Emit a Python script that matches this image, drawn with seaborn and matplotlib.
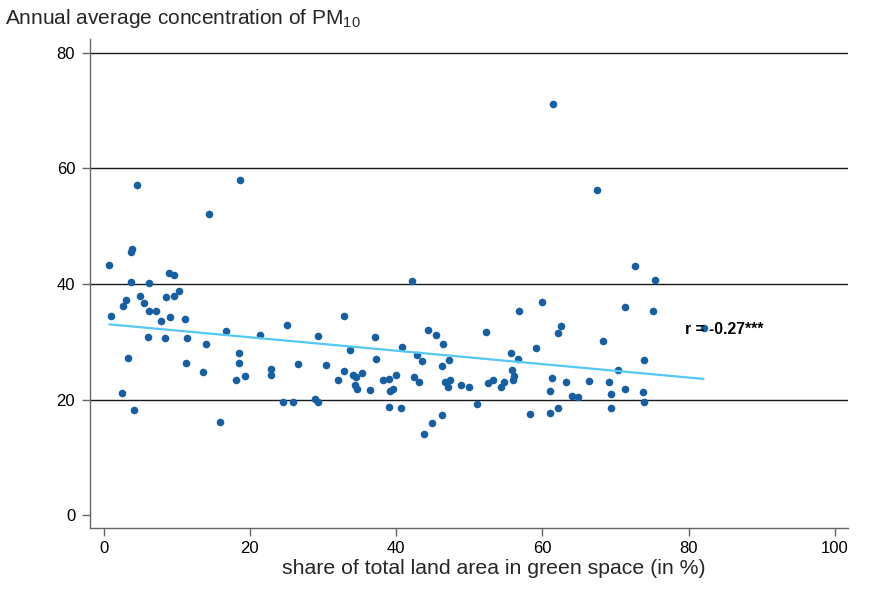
import numpy as np
import pandas as pd
import matplotlib
matplotlib.use("Agg")
import matplotlib.pyplot as plt
import seaborn as sns

# green space share (%) and PM10 annual average
green_share = [
    4.56, 18.65, 14.36, 3.83, 3.69, 0.78, 3.79, 6.25, 8.93, 9.62,
    4.92, 3.10, 2.70, 5.57, 8.58, 9.62, 10.30, 6.16, 7.15, 1.05,
    7.89, 9.12, 11.12, 25.07, 16.69, 21.34, 6.11, 8.44, 11.45, 13.99,
    18.47, 3.38, 18.47, 11.31, 13.54, 22.85, 22.85, 18.10, 19.38, 2.46,
    24.49, 4.15, 15.91,
    42.18, 32.83, 29.32, 37.07, 33.75, 40.86, 44.41, 45.42, 37.25, 42.91,
    43.55, 26.54, 30.46, 32.83, 32.01, 34.11, 34.52, 35.29, 34.34, 34.66,
    36.48, 38.21, 39.03, 39.95, 39.22, 39.53, 42.41, 43.09, 25.85, 28.96,
    29.37, 39.08, 40.67, 44.87, 43.78,
    59.96, 56.81, 62.61, 62.15, 52.35, 46.42, 59.19, 55.77, 56.68, 47.24,
    46.33, 55.86, 56.18, 55.99, 61.38, 63.30, 66.44, 46.69, 47.33, 47.15,
    48.93, 50.03, 52.57, 53.21, 54.35, 54.76, 61.05, 64.12, 64.84, 51.12,
    46.28, 58.32, 61.10, 62.15,
    61.47, 67.48, 72.73, 75.47, 71.37, 75.10, 68.36, 73.87, 70.31, 69.13,
    69.36, 71.27, 73.78, 73.97, 69.36, 82.04,
]
pm10 = [
    57.20, 57.98, 52.10, 46.06, 45.48, 43.30, 40.41, 40.12, 41.97, 41.57,
    38.00, 37.18, 36.27, 36.67, 37.70, 37.88, 38.81, 35.40, 35.35, 34.49,
    33.56, 34.20, 34.02, 32.94, 31.78, 31.09, 30.79, 30.57, 30.69, 29.59,
    28.10, 27.12, 26.37, 26.37, 24.70, 25.22, 24.30, 23.32, 24.13, 21.19,
    19.52, 18.13, 16.11,
    40.47, 34.54, 31.03, 30.80, 28.50, 29.13, 32.01, 31.09, 27.06, 27.63,
    26.71, 26.08, 25.96, 24.99, 23.32, 24.18, 23.95, 24.65, 22.45, 21.88,
    21.59, 23.32, 23.49, 24.30, 21.47, 21.81, 23.83, 23.09, 19.57, 20.03,
    19.52, 18.70, 18.53, 16.01, 14.04,
    36.96, 35.35, 32.76, 31.55, 31.66, 29.59, 28.96, 28.10, 27.00, 26.77,
    25.85, 25.10, 24.06, 23.44, 23.66, 23.02, 23.26, 23.09, 23.37, 22.11,
    22.50, 22.16, 22.80, 23.32, 22.16, 22.97, 21.42, 20.60, 20.50, 19.22,
    17.27, 17.44, 17.74, 18.60,
    71.21, 56.36, 43.18, 40.64, 35.98, 35.41, 30.10, 26.77, 25.04, 23.09,
    20.90, 21.88, 21.24, 19.57, 18.60, 32.42,
]
x_ticks = [0, 20, 40, 60, 80, 100]
y_ticks = [0, 20, 40, 60, 80]
grid_levels = [20, 40, 60, 80]
r_label = "r = -0.27***"

df = pd.DataFrame({"green": green_share, "pm10": pm10})

sns.set_style("white")
plt.rcParams["font.family"] = ["Liberation Sans", "DejaVu Sans"]
plt.rcParams["mathtext.fontset"] = "custom"
plt.rcParams["mathtext.rm"] = "Liberation Sans"

fig = plt.figure(figsize=(8.69, 5.99), dpi=100)
ax = fig.add_axes([0.103, 0.119, 0.8728, 0.8154])

# horizontal grid (no line at 0)
for g in grid_levels:
    ax.axhline(g, color="#1a1a1a", lw=1.0, zorder=0)

sns.regplot(
    data=df, x="green", y="pm10", ax=ax, ci=None,
    scatter_kws={"s": 30, "color": "#175fa3", "linewidths": 0, "alpha": 1},
    line_kws={"color": "#55c8f4", "lw": 1.6},
)

ax.text(79.5, 32.2, r_label, ha="left", va="center",
        fontsize=11.3, fontweight="bold", color="black")

ax.set_xlim(-1.94, 101.8)
ax.set_ylim(-2.2, 82.37)
ax.set_xticks(x_ticks)
ax.set_yticks(y_ticks)
ax.set_xlabel("")
ax.set_ylabel("")

for side in ["top", "right"]:
    ax.spines[side].set_visible(False)
for side in ["left", "bottom"]:
    ax.spines[side].set_color("#666666")
    ax.spines[side].set_linewidth(1.0)

ax.tick_params(axis="both", which="major", bottom=True, left=True,
               direction="out", length=6, width=1.0,
               color="#666666", labelsize=12, labelcolor="black")
ax.tick_params(axis="x", pad=3.5)
ax.tick_params(axis="y", pad=4.3)

fig.text(5 / 869, 1 - 24 / 599, r"Annual average concentration of PM$_\mathregular{10}$",
         ha="left", va="baseline", fontsize=15)
fig.text(282 / 869, 1 - 574.5 / 599, "share of total land area in green space (in %)",
         ha="left", va="baseline", fontsize=15.3)

fig.savefig("out.png", dpi=100)
